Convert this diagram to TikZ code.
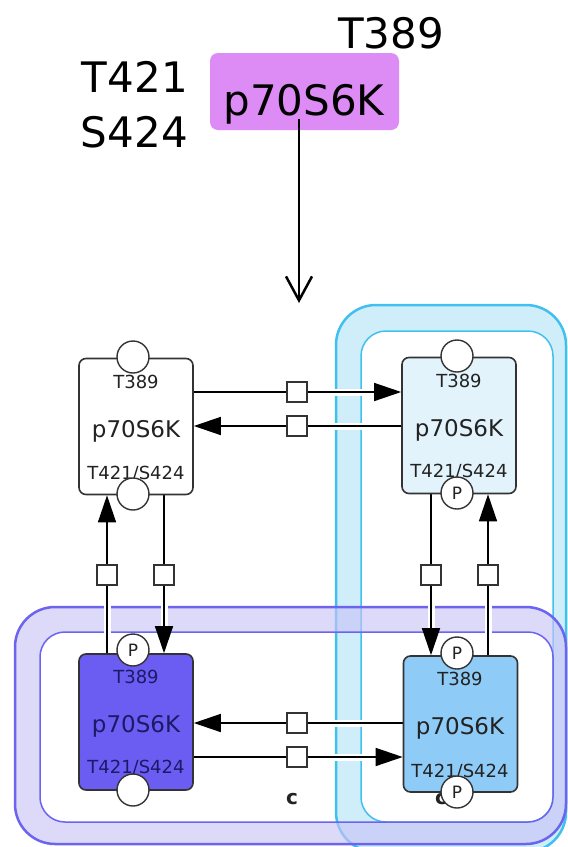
\documentclass[tikz,border=0pt]{standalone}
\usepackage{fontspec}
\setmainfont{DejaVu Sans}
\usetikzlibrary{arrows.meta,calc}
\pgfdeclarelayer{comp}
\pgfdeclarelayer{conn}
\pgfsetlayers{comp,conn,main}
\definecolor{topcol}{HTML}{DE8CF5}
\definecolor{nbord}{HTML}{333333}
\definecolor{ntext}{HTML}{222222}
\definecolor{ltblue}{HTML}{E3F3FB}
\definecolor{violet}{HTML}{6B5CF2}
\definecolor{skyb}{HTML}{8ECBF7}
\definecolor{darkv}{HTML}{1C1A66}
\definecolor{cyanline}{HTML}{40C0F0}
\definecolor{cyanband}{HTML}{C4EAF9}
\definecolor{purpline}{HTML}{6C63EE}
\definecolor{purpband}{HTML}{C9C4F6}
\begin{document}
\begin{tikzpicture}[x=1pt,y=-1pt,
  pbox/.style={draw=nbord,line width=1.6pt,rounded corners=7pt,minimum width=114pt,minimum height=136pt,inner sep=0pt},
  big/.style={font=\fontsize{42}{44}\selectfont,text=black,inner sep=0pt},
  ltxt/.style={font=\fontsize{18}{20}\selectfont,text=ntext,inner sep=0pt,anchor=base},
  mtxt/.style={font=\fontsize{23}{25}\selectfont,text=ntext,inner sep=0pt,anchor=base},
  site/.style={circle,draw=nbord,line width=1.4pt,fill=white,minimum size=32pt,inner sep=0pt,font=\fontsize{17}{17}\selectfont,text=ntext},
  sq/.style={draw=nbord,line width=1.4pt,fill=white,minimum size=20pt,inner sep=0pt},
  conn/.style={line width=1.5pt,draw=black,preaction={draw=white,line width=7pt,-}},
  arr/.style={-{Triangle[length=27pt,width=18pt]}},
  clbl/.style={font=\bfseries\fontsize{20}{20}\selectfont,text=ntext,inner sep=0pt}
]
\useasboundingbox (0,0) rectangle (568,847);

% compartments
\begin{pgfonlayer}{comp}
  \fill[cyanband,fill opacity=0.8,even odd rule,rounded corners=40pt] (336,305) rectangle (566,852)
    [rounded corners=25pt] (361,331) rectangle (553,822);
  \draw[cyanline,line width=2.5pt,rounded corners=40pt] (336,305) rectangle (566,852);
  \draw[cyanline,line width=1.5pt,rounded corners=25pt] (361,331) rectangle (553,822);
  \fill[purpband,fill opacity=0.65,even odd rule,rounded corners=40pt] (15,607) rectangle (566,844)
    [rounded corners=25pt] (40,632) rectangle (553,822);
  \draw[purpline,line width=2.5pt,rounded corners=40pt] (15,607) rectangle (566,844);
  \draw[purpline,line width=1.5pt,rounded corners=25pt] (40,632) rectangle (553,822);
\end{pgfonlayer}

% top species
\node[fill=topcol,rounded corners=8pt,minimum width=189pt,minimum height=77pt,inner sep=0pt] (top) at (304.5,91.5) {};
\node[big,anchor=base] (toplbl) at (304,115) {p70S6K};
\node[big,anchor=base] (t389) at (391,48) {T389};
\node[big,anchor=base east] (t421) at (188,92) {T421};
\node[big,anchor=base east] (s424) at (188,147) {S424};
\coordinate (a1) at (299,303);
\draw[line width=2pt,-{Straight Barb[length=24pt,width=26pt,line width=2.5pt]}] ([xshift=-5.5pt,yshift=11pt]top.south) -- (a1);

% four species
\node[pbox,fill=white] (n1) at (136,426.5) {};
\node[pbox,fill=ltblue] (n2) at (459,425.5) {};
\node[pbox,fill=violet] (n3) at (136,722) {};
\node[pbox,fill=skyb] (n4) at (460.5,724) {};

\node[ltxt] (n1a) at (136,388) {T389};
\node[mtxt] (n1b) at (136,437) {p70S6K};
\node[ltxt] (n1c) at (136,479) {T421/S424};
\node[ltxt] (n2a) at (459,387) {T389};
\node[mtxt] (n2b) at (459,436) {p70S6K};
\node[ltxt] (n2c) at (459,477) {T421/S424};
\node[ltxt,text=darkv] (n3a) at (136,683) {T389};
\node[mtxt,text=darkv] (n3b) at (136,732) {p70S6K};
\node[ltxt,text=darkv] (n3c) at (136,773) {T421/S424};
\node[ltxt] (n4a) at (460,685) {T389};
\node[mtxt] (n4b) at (460,734) {p70S6K};
\node[ltxt] (n4c) at (460,777) {T421/S424};

% state variables
\node[site] (n1t) at (133,357) {};
\node[site] (n1s) at (133,494) {};
\node[site] (n2t) at (457,356) {};
\node[site] (n2s) at (457,493) {P};
\node[site] (n3t) at (133,650) {P};
\node[site] (n3s) at (133,790) {};
\node[site] (n4t) at (457,653) {P};
\node[site] (n4s) at (457,792) {P};

% process squares
\node[sq] (s1) at (297,392) {};
\node[sq] (s2) at (297,426) {};
\node[sq] (s3) at (297,723) {};
\node[sq] (s4) at (297,757) {};
\node[sq] (s5) at (107,575) {};
\node[sq] (s6) at (164,575) {};
\node[sq] (s7) at (431,575) {};
\node[sq] (s8) at (488,575) {};

\node[clbl] (c1) at (292,799) {c};

\begin{pgfonlayer}{conn}
  \node[clbl] (c2) at (441,799) {c};
  \draw[conn] (n1.east |- s1) -- (s1);
  \draw[conn,arr] (s1) -- (n2.west |- s1);
  \draw[conn] (n2.west |- s2) -- (s2);
  \draw[conn,arr] (s2) -- (n1.east |- s2);
  \draw[conn] (n4.west |- s3) -- (s3);
  \draw[conn,arr] (s3) -- (n3.east |- s3);
  \draw[conn] (n3.east |- s4) -- (s4);
  \draw[conn,arr] (s4) -- (n4.west |- s4);
  \draw[conn] (n3.north -| s5) -- (s5);
  \draw[conn,arr] (s5) -- (n1.south -| s5);
  \draw[conn] (n1.south -| s6) -- (s6);
  \draw[conn,arr] (s6) -- (n3.north -| s6);
  \draw[conn] (n2.south -| s7) -- (s7);
  \draw[conn,arr] (s7) -- (n4.north -| s7);
  \draw[conn] (n4.north -| s8) -- (s8);
  \draw[conn,arr] (s8) -- (n2.south -| s8);
\end{pgfonlayer}
\end{tikzpicture}
\end{document}
